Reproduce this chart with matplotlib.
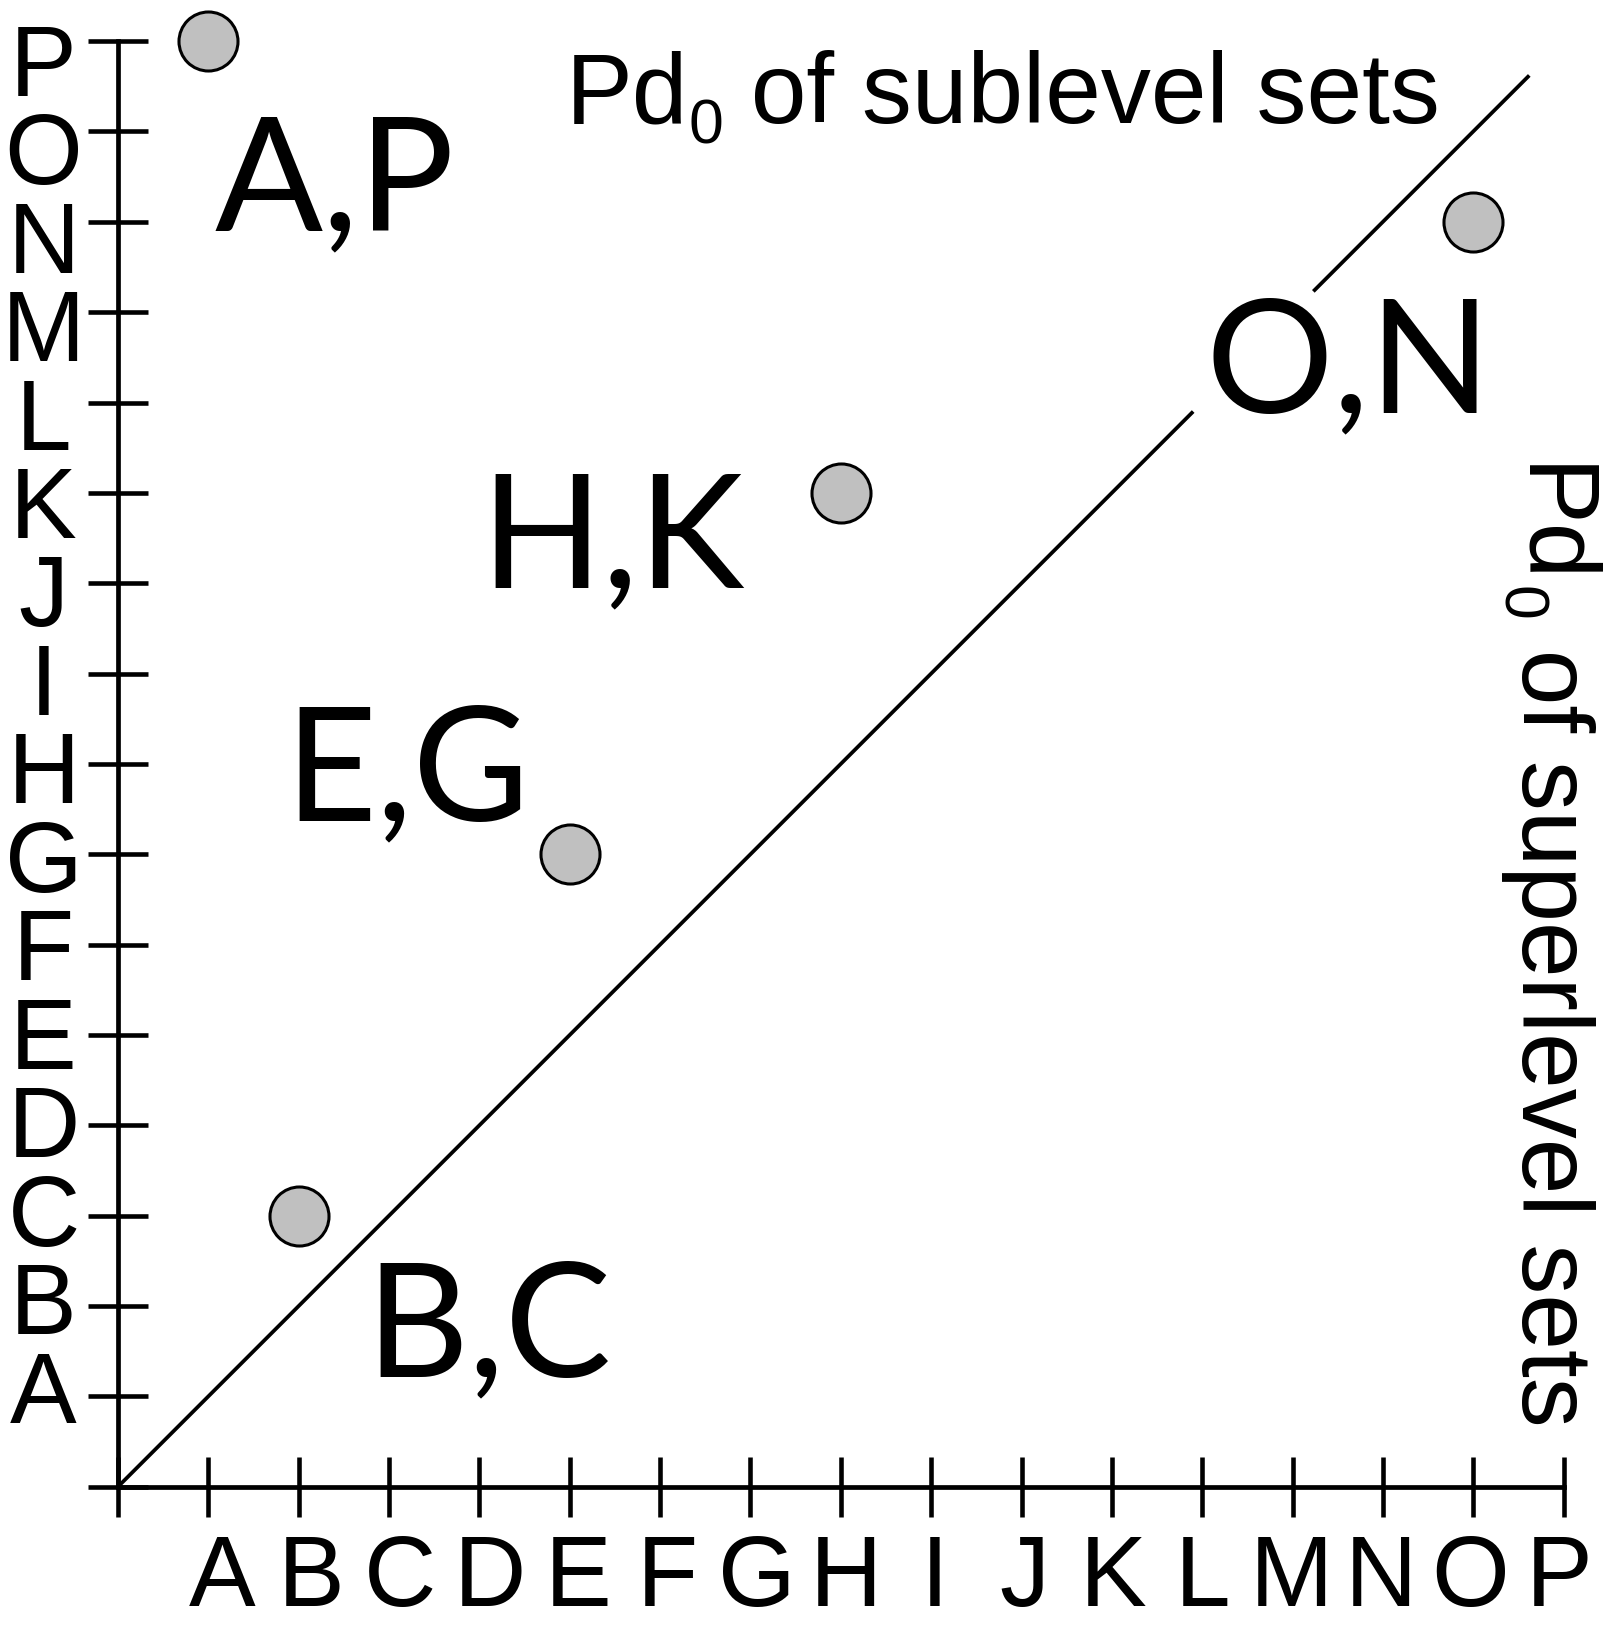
import matplotlib
matplotlib.use("Agg")
import matplotlib.pyplot as plt
from matplotlib.ticker import FixedLocator, NullFormatter, FixedFormatter
from matplotlib.transforms import IdentityTransform

# ---------------- data ----------------
letters = list("ABCDEFGHIJKLMNOP")
tick_values = list(range(0, 17))
birth = [1, 2, 5, 8, 15]
death = [16, 3, 7, 11, 14]
pair_label_x = [1.07, 2.74, 1.84, 4.01, 12.04]
pair_label_y = [13.90, 1.22, 7.38, 9.95, 11.89]
diag_end = 15.62
diag_gap = [11.90, 13.23]
title_main = "Pd"
title_sub = "0"
title_top_rest = " of sublevel sets"
title_right_rest = " of superlevel sets"

# ---------------- style ----------------
W, H, DPI = 1618, 1625, 100
TICK_FONT = "Liberation Sans"
BIG_FONT = "Lato"
MAIN_SIZE = 72
SUB_SIZE = 45
SUB_DROP = 20  # px

fig = plt.figure(figsize=(W / DPI, H / DPI), dpi=DPI)
renderer = fig.canvas.get_renderer()
unit = 90.35
span = 16.6
ox, oy = 118.0, 1486.7
ax = fig.add_axes([ox / W, (H - oy) / H, unit * span / W, unit * span / H])
ax.set_xlim(0, span)
ax.set_ylim(0, span)
ax.set_facecolor("none")

for s in ("top", "right"):
    ax.spines[s].set_visible(False)
for s in ("left", "bottom"):
    ax.spines[s].set_bounds(0, 16)
    ax.spines[s].set_linewidth(3.4)

# major ticks: crosses, no labels
ax.xaxis.set_major_locator(FixedLocator(tick_values))
ax.yaxis.set_major_locator(FixedLocator(tick_values))
ax.xaxis.set_major_formatter(NullFormatter())
ax.yaxis.set_major_formatter(NullFormatter())
ax.tick_params(which="major", direction="inout", length=43.2, width=3.3)

# minor ticks carry the letter labels
x_lab_pos = [1.152 + i * 0.9865 for i in range(16)]
y_lab_pos = [1.114 + i * 0.979 for i in range(16)]
ax.xaxis.set_minor_locator(FixedLocator(x_lab_pos))
ax.yaxis.set_minor_locator(FixedLocator(y_lab_pos))
ax.xaxis.set_minor_formatter(FixedFormatter(letters))
ax.yaxis.set_minor_formatter(FixedFormatter(letters))
ax.tick_params(which="minor", length=0, labelsize=MAIN_SIZE)
ax.tick_params(axis="x", which="minor", pad=33)
ax.tick_params(axis="y", which="minor", pad=53.6)
for lab in ax.get_xticklabels(minor=True):
    lab.set_fontfamily(TICK_FONT)
for lab in ax.get_yticklabels(minor=True):
    lab.set_fontfamily(TICK_FONT)
    lab.set_horizontalalignment("center")

# diagonal (broken behind the O,N label)
ax.plot([0, diag_gap[0]], [0, diag_gap[0]], color="black", lw=2.7,
        solid_capstyle="butt", zorder=2)
ax.plot([diag_gap[1], diag_end], [diag_gap[1], diag_end], color="black", lw=2.7,
        solid_capstyle="butt", zorder=2)

# points
ax.plot(birth, death, linestyle="none", marker="o", ms=42.5,
        mfc="#c0c0c0", mec="black", mew=2.2, clip_on=False, zorder=5)

# pair labels
for b, d, lx, ly in zip(birth, death, pair_label_x, pair_label_y):
    ax.text(lx, ly, f"{letters[b - 1]},{letters[d - 1]}", fontsize=115,
            family=BIG_FONT, ha="left", va="baseline", zorder=4)


def text_width(s, size):
    t = fig.text(0, 0, s, fontsize=size, family=TICK_FONT)
    w = t.get_window_extent(renderer).width
    t.remove()
    return w


w_main = text_width(title_main, MAIN_SIZE)
w_sub = text_width(title_sub, SUB_SIZE)
px = IdentityTransform()

# top title (pixel coords, origin bottom-left)
x0, y0 = 566.0, H - 123.0
kw = dict(family=TICK_FONT, ha="left", va="baseline", transform=px)
fig.text(x0, y0, title_main, fontsize=MAIN_SIZE, **kw)
fig.text(x0 + w_main, y0 - SUB_DROP, title_sub, fontsize=SUB_SIZE, **kw)
fig.text(x0 + w_main + w_sub, y0, title_top_rest, fontsize=MAIN_SIZE, **kw)

# right-hand title, rotated to read downward
bx, by = 1521.7, H - 464.0
kr = dict(family=TICK_FONT, ha="left", va="baseline", transform=px,
          rotation=-90, rotation_mode="anchor")
fig.text(bx, by, title_main, fontsize=MAIN_SIZE, **kr)
fig.text(bx - SUB_DROP, by - w_main, title_sub, fontsize=SUB_SIZE, **kr)
fig.text(bx, by - w_main - w_sub, title_right_rest, fontsize=MAIN_SIZE, **kr)

fig.savefig("out.png", dpi=DPI, facecolor="white")
